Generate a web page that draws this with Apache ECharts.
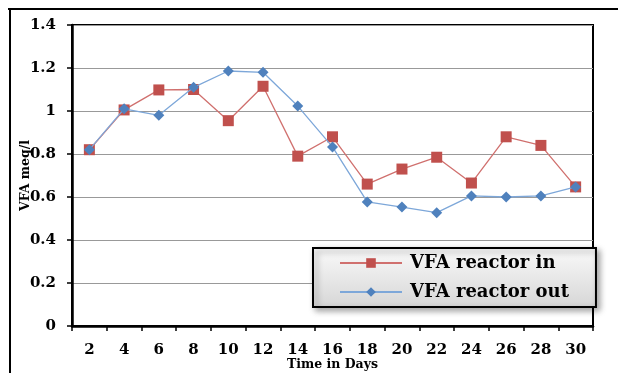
<!DOCTYPE html>
<html>
<head>
<meta charset="utf-8">
<script src="https://cdn.jsdelivr.net/npm/echarts@6/dist/echarts.min.js"></script>
<style>
  html, body { margin: 0; padding: 0; background: #fff; }
  #chart { width: 618px; height: 373px; }
</style>
</head>
<body>
<div id="chart"></div>
<script>
// Sampling days
const days = ['2', '4', '6', '8', '10', '12', '14', '16', '18', '20', '22', '24', '26', '28', '30'];
// VFA concentration (meq/l) entering and leaving the reactor
const vfaIn  = [0.82, 1.005, 1.098, 1.10, 0.955, 1.115, 0.79, 0.88, 0.66, 0.73, 0.785, 0.665, 0.88, 0.84, 0.647];
const vfaOut = [0.82, 1.01, 0.98, 1.11, 1.186, 1.18, 1.023, 0.833, 0.577, 0.553, 0.527, 0.605, 0.60, 0.605, 0.647];
const yTicks = { min: 0, max: 1.4, interval: 0.2 };

const serif = '"DejaVu Serif", "Liberation Serif", serif';
const chart = echarts.init(document.getElementById('chart'), null, { renderer: 'canvas' });

chart.setOption({
  animation: false,
  backgroundColor: '#fff',
  grid: {
    left: 72, right: 25, top: 25, bottom: 47,
    show: true, borderColor: '#000', borderWidth: 2,
    containLabel: false, outerBoundsMode: 'none'
  },
  graphic: [
    { type: 'line', shape: { x1: 8, y1: 9, x2: 618, y2: 9 }, style: { stroke: '#000', lineWidth: 2 } },
    { type: 'line', shape: { x1: 10, y1: 9, x2: 10, y2: 373 }, style: { stroke: '#000', lineWidth: 2 } }
  ],
  xAxis: {
    type: 'category',
    data: days,
    boundaryGap: true,
    name: 'Time in Days',
    nameLocation: 'middle',
    nameGap: 32,
    nameMoveOverlap: false,
    nameTextStyle: { fontFamily: serif, fontWeight: 'bold', fontSize: 12.5, color: '#000' },
    axisLine: { lineStyle: { color: '#000', width: 2.5 } },
    axisTick: { show: true, alignWithLabel: false, length: 5, lineStyle: { color: '#000', width: 1.5 } },
    axisLabel: { fontFamily: serif, fontWeight: 'bold', fontSize: 15, color: '#000', margin: 17, interval: 0 },
    splitLine: { show: false }
  },
  yAxis: {
    type: 'value',
    min: yTicks.min, max: yTicks.max, interval: yTicks.interval,
    name: 'VFA meq/l',
    nameLocation: 'middle',
    nameGap: 40,
    nameMoveOverlap: false,
    nameTextStyle: { fontFamily: serif, fontWeight: 'bold', fontSize: 12.5, color: '#000' },
    axisLine: { show: true, lineStyle: { color: '#000', width: 2.5 } },
    axisTick: { show: true, length: 5, lineStyle: { color: '#000', width: 1.5 } },
    axisLabel: { fontFamily: serif, fontWeight: 'bold', fontSize: 15, color: '#000', margin: 16 },
    splitLine: { show: true, lineStyle: { color: '#999', width: 1.2 } }
  },
  legend: {
    orient: 'vertical',
    left: 313, top: 248,
    padding: [6, 27, 6, 26],
    itemGap: 11,
    itemWidth: 62,
    itemHeight: 12,
    borderColor: '#000',
    borderWidth: 2,
    backgroundColor: new echarts.graphic.LinearGradient(0, 0, 0, 1, [
      { offset: 0, color: '#fafafa' },
      { offset: 1, color: '#d6d6d6' }
    ]),
    shadowColor: 'rgba(0,0,0,0.35)',
    shadowBlur: 6,
    shadowOffsetX: 3,
    shadowOffsetY: 3,
    textStyle: { fontFamily: serif, fontWeight: 'bold', fontSize: 18, color: '#000', padding: [0, 0, 0, 3] },
    data: ['VFA reactor in', 'VFA reactor out']
  },
  series: [
    {
      name: 'VFA reactor in',
      type: 'line',
      data: vfaIn,
      symbol: 'rect',
      symbolSize: 11,
      lineStyle: { color: '#D0706E', width: 1.3 },
      itemStyle: { color: '#C0504D' },
      z: 2
    },
    {
      name: 'VFA reactor out',
      type: 'line',
      data: vfaOut,
      symbol: 'diamond',
      symbolSize: 11,
      lineStyle: { color: '#7DA7D9', width: 1.3 },
      itemStyle: { color: '#4F81BD' },
      z: 3
    }
  ]
});
</script>
</body>
</html>
